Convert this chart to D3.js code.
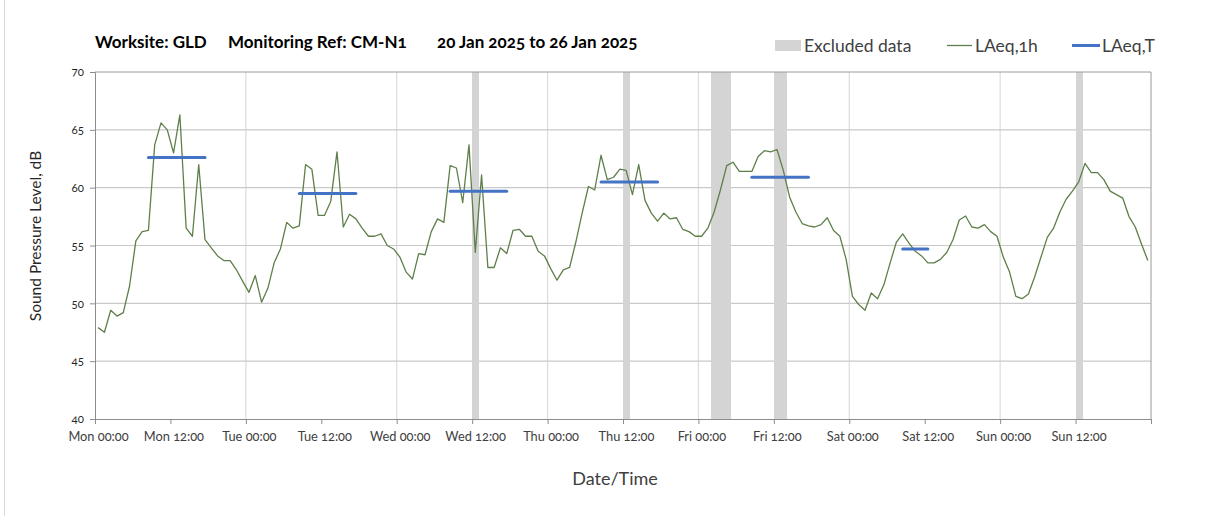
<!DOCTYPE html>
<html>
<head>
<meta charset="utf-8">
<script src="https://cdn.jsdelivr.net/npm/d3@7"></script>
<style>
  html, body { margin: 0; padding: 0; background: #fff; }
  svg text { font-family: Lato, "Open Sans", sans-serif; font-variant-numeric: oldstyle-nums; }
</style>
</head>
<body>
<svg id="chart" width="1208" height="516"></svg>
<script>
// ---- data ----
const tickLabels = ["Mon 00:00","Mon 12:00","Tue 00:00","Tue 12:00","Wed 00:00","Wed 12:00",
  "Thu 00:00","Thu 12:00","Fri 00:00","Fri 12:00","Sat 00:00","Sat 12:00","Sun 00:00","Sun 12:00"];
// hourly LAeq,1h (hour index 0 = Mon 00:00)
const laeq1h = [
  47.9,47.5,49.4,48.9,49.2,51.5,55.4,56.2,56.3,63.7,65.6,65.0,63.0,66.3,56.5,55.8,62.0,55.5,54.8,54.1,53.7,53.7,52.9,51.9,
  50.95,52.4,50.1,51.3,53.5,54.7,57.0,56.5,56.7,62.0,61.6,57.6,57.6,58.8,63.1,56.6,57.7,57.3,56.5,55.8,55.8,56.0,55.0,54.7,
  54.0,52.7,52.1,54.3,54.2,56.2,57.3,57.0,61.9,61.7,58.7,63.7,54.4,61.1,53.1,53.1,54.8,54.3,56.3,56.4,55.8,55.8,54.5,54.1,
  53.0,52.0,52.9,53.1,55.3,57.8,60.1,59.8,62.8,60.7,60.9,61.6,61.5,59.4,62.0,58.9,57.8,57.1,57.8,57.3,57.4,56.4,56.2,55.8,
  55.8,56.5,57.9,59.8,61.9,62.2,61.4,61.4,61.4,62.7,63.2,63.1,63.3,61.5,59.2,57.9,56.9,56.7,56.6,56.8,57.4,56.3,55.8,53.8,
  50.6,49.9,49.4,50.9,50.4,51.6,53.5,55.3,56.0,55.2,54.5,54.1,53.5,53.5,53.8,54.4,55.5,57.2,57.55,56.6,56.5,56.8,56.2,55.8,
  54.0,52.7,50.6,50.4,50.8,52.3,54.0,55.7,56.5,57.9,59.0,59.7,60.5,62.1,61.3,61.3,60.7,59.7,59.4,59.1,57.5,56.6,55.1,53.7
];
// excluded hours (hour indices)
const excludedHours = [60, 84, 98, 99, 100, 108, 109, 156];
// LAeq,T periods (first hour, last hour, level)
const periodStart = [8, 32, 56, 80, 104, 128];
const periodEnd   = [17, 41, 65, 89, 113, 132];
const periodLevel = [62.6, 59.5, 59.7, 60.5, 60.9, 54.7];
const yTicks = [40, 45, 50, 55, 60, 65, 70];

// ---- layout ----
const svg = d3.select("#chart");
const L = 95, R = 1151, T = 72, B = 419;
const x = d3.scaleLinear().domain([0, 168]).range([L, R]);
const y = d3.scaleLinear().domain([40, 70]).range([B, T]);

// outer frame (left edge)
svg.append("line").attr("x1", 4.5).attr("x2", 4.5).attr("y1", 0).attr("y2", 516)
  .attr("stroke", "#d9d9d9");

// vertical gridlines (every 24h)
svg.append("g").selectAll("line").data(d3.range(24, 168, 24)).join("line")
  .attr("x1", d => x(d)).attr("x2", d => x(d)).attr("y1", T).attr("y2", B)
  .attr("stroke", "#dcdcdc").attr("stroke-width", 1.2);
// horizontal gridlines
svg.append("g").selectAll("line").data(yTicks.slice(1, -1)).join("line")
  .attr("x1", L).attr("x2", R).attr("y1", d => y(d)).attr("y2", d => y(d))
  .attr("stroke", "#c9c9c9").attr("stroke-width", 1.2);

// excluded bars
svg.append("g").attr("shape-rendering", "crispEdges").selectAll("rect").data(excludedHours).join("rect")
  .attr("x", d => Math.round(x(d))).attr("width", d => Math.round(x(d + 1)) - Math.round(x(d)) + 0.5)
  .attr("y", y(70)).attr("height", y(40) - y(70))
  .attr("fill", "#d4d4d4");

// plot border (top/right)
svg.append("path").attr("d", `M${L},${T}H${R}V${B}`).attr("fill", "none")
  .attr("stroke", "#9a9a9a").attr("stroke-width", 1);

// y axis
const yAxis = svg.append("g").attr("transform", `translate(${L},0)`)
  .call(d3.axisLeft(y).tickValues(yTicks).tickSize(5).tickPadding(6).tickFormat(d3.format("d")));
yAxis.select(".domain").attr("stroke", "#8c8c8c");
yAxis.selectAll(".tick line").attr("stroke", "#8c8c8c");
yAxis.selectAll("text").attr("font-size", 11.5).attr("fill", "#262626");

// x axis
const xAxis = svg.append("g").attr("transform", `translate(0,${B})`)
  .call(d3.axisBottom(x).tickValues(d3.range(0, 169, 12)).tickSize(5).tickPadding(8)
    .tickFormat(d => d < 168 ? tickLabels[d / 12] : ""));
xAxis.select(".domain").attr("stroke", "#8c8c8c");
xAxis.selectAll(".tick line").attr("stroke", "#8c8c8c");
xAxis.selectAll("text").attr("font-size", 12.8).attr("fill", "#404040").attr("dx", 3);

// LAeq,1h line
const line = d3.line().x((d, i) => x(i + 0.5)).y(d => y(d));
svg.append("path").datum(laeq1h).attr("d", line)
  .attr("fill", "none").attr("stroke", "#5f7f4a").attr("stroke-width", 1.3)
  .attr("stroke-linejoin", "round");

// LAeq,T segments
svg.append("g").selectAll("line").data(periodLevel).join("line")
  .attr("x1", (d, i) => x(periodStart[i] + 0.5)).attr("x2", (d, i) => x(periodEnd[i] + 0.5))
  .attr("y1", d => y(d)).attr("y2", d => y(d))
  .attr("stroke", "#4472c4").attr("stroke-width", 3).attr("stroke-linecap", "round");

// title
const tg = svg.append("g").attr("font-size", 17).attr("font-weight", "bold").attr("fill", "#000");
tg.append("text").attr("x", 95).attr("y", 48).text("Worksite: GLD");
tg.append("text").attr("x", 228).attr("y", 48).text("Monitoring Ref: CM-N1");
tg.append("text").attr("x", 437).attr("y", 48).text("20 Jan 2025 to 26 Jan 2025");

// legend
const lg = svg.append("g").attr("font-size", 17.5).attr("fill", "#404040");
lg.append("rect").attr("x", 775).attr("y", 40).attr("width", 26).attr("height", 11).attr("fill", "#d4d4d4");
lg.append("text").attr("x", 804).attr("y", 51.5).attr("fill", "#404040").text("Excluded data");
lg.append("line").attr("x1", 947).attr("x2", 972).attr("y1", 45.5).attr("y2", 45.5)
  .attr("stroke", "#5f7f4a").attr("stroke-width", 1.3);
lg.append("text").attr("x", 975).attr("y", 51.5).attr("fill", "#404040").text("LAeq,1h");
lg.append("line").attr("x1", 1072).attr("x2", 1100).attr("y1", 45.5).attr("y2", 45.5)
  .attr("stroke", "#4472c4").attr("stroke-width", 3);
lg.append("text").attr("x", 1102).attr("y", 51.5).attr("fill", "#404040").text("LAeq,T");

// axis titles
svg.append("text").attr("x", 615).attr("y", 485).attr("text-anchor", "middle")
  .attr("font-size", 18).attr("fill", "#404040").text("Date/Time");
svg.append("text").attr("transform", "translate(41,236) rotate(-90)").attr("text-anchor", "middle")
  .attr("font-size", 15.5).attr("fill", "#262626").text("Sound Pressure Level, dB");
</script>
</body>
</html>
